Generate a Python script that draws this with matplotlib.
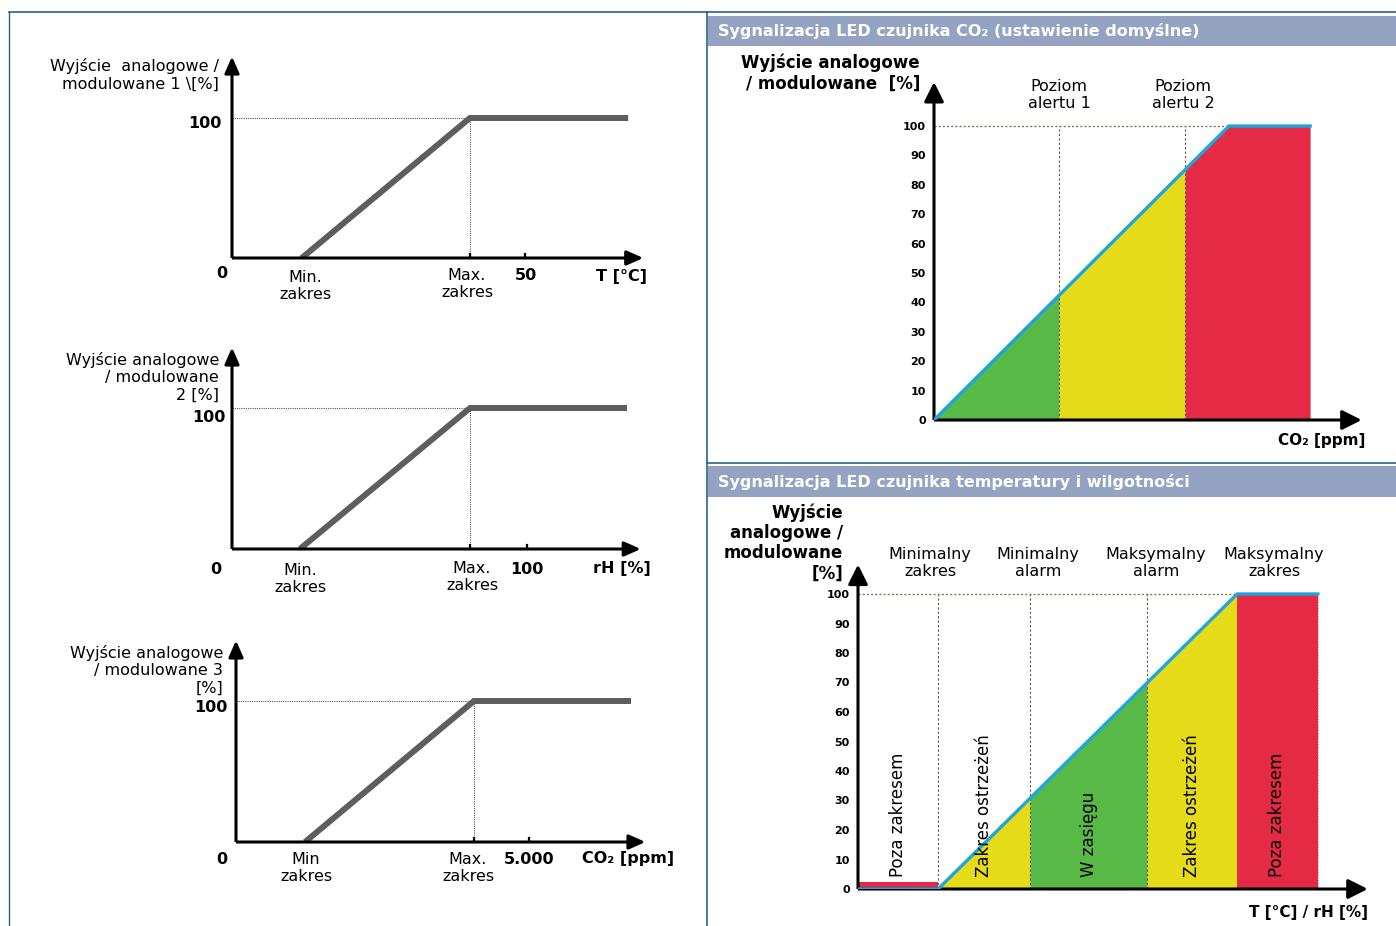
import matplotlib
matplotlib.use('Agg')
import matplotlib.pyplot as plt

plt.rcParams['font.family'] = ['DejaVu Sans']

W, H = 1396, 926

# ---------------- data ----------------
# Left schematic charts: output [%] vs. measured value
t_points_x = [11.9, 40.6, 67.6]          # Min. zakres, Max. zakres, end  (T [°C])
t_points_y = [0, 100, 100]
t_tick = 50
rh_points_x = [23.0, 80.7, 133.9]        # rH [%]
rh_points_y = [0, 100, 100]
rh_tick = 100
co2_points_x = [1177, 4061, 6741]        # CO2 [ppm]
co2_points_y = [0, 100, 100]
co2_tick = 5000

# Right top: CO2 LED signalling (x in relative units)
led_co2_bounds = [0, 42.4, 85.1, 100, 127.5]   # start, alert 1, alert 2, 100% point, end
led_co2_line_x = [0, 100, 127.5]
led_co2_line_y = [0, 100, 100]
led_co2_colors = ['#58b947', '#e6db19', '#e42a44']
y_ticks = list(range(0, 101, 10))

# Right bottom: T / rH LED signalling
led_th_bounds = [0, 26.8, 57.5, 96.7, 126.8, 153.8]
led_th_line_x = [0, 26.8, 126.8, 153.8]
led_th_line_y = [0, 0, 100, 100]
led_th_low_bar = 2.4
led_th_colors = ['#e42a44', '#e6db19', '#58b947', '#e6db19', '#e42a44']
led_th_zone_labels = ['Poza zakresem', 'Zakres ostrzeżeń', 'W zasięgu', 'Zakres ostrzeżeń', 'Poza zakresem']
led_th_top_labels = ['Minimalny\nzakres', 'Minimalny\nalarm', 'Maksymalny\nalarm', 'Maksymalny\nzakres']

GRAY = '#5e5e5e'
BLUE = '#1ea6dc'
DOT = '#7d7658'
FRAME = '#2d5f8c'
HEAD = '#95a3c3'

fig = plt.figure(figsize=(W / 100, H / 100), dpi=100)

bg = fig.add_axes([0, 0, 1, 1])
bg.set_xlim(0, W)
bg.set_ylim(H, 0)
bg.axis('off')

# frames
bg.plot([9, W], [12, 12], color=FRAME, lw=1.2)
bg.plot([9, 9], [12, H], color=FRAME, lw=1.0)
bg.plot([707, 707], [12, H], color=FRAME, lw=1.2)
bg.plot([707, W], [463, 463], color=FRAME, lw=1.2)
bg.add_patch(plt.Rectangle((708, 16), W - 708, 30, color=HEAD, lw=0))
bg.add_patch(plt.Rectangle((708, 466), W - 708, 31, color=HEAD, lw=0))
bg.text(718, 31, 'Sygnalizacja LED czujnika CO₂ (ustawienie domyślne)', color='white',
        fontsize=11.5, fontweight='bold', va='center', ha='left')
bg.text(718, 482, 'Sygnalizacja LED czujnika temperatury i wilgotności', color='white',
        fontsize=11.5, fontweight='bold', va='center', ha='left')


def chart_axes(ox, oy, sx, sy, xmax, ymax):
    ax = fig.add_axes([ox / W, (H - oy) / H, xmax * sx / W, ymax * sy / H])
    ax.set_xlim(0, xmax)
    ax.set_ylim(0, ymax)
    for s in ax.spines.values():
        s.set_visible(False)
    ax.set_xticks([])
    ax.set_yticks([])
    ax.patch.set_alpha(0)
    return ax


def axis_arrows(ax, xtip, ytip, lw=2.2, hl=0.5, hw=0.22):
    style = f'-|>,head_length={hl},head_width={hw}'
    ax.annotate('', xy=(xtip, 0), xytext=(0, 0), annotation_clip=False,
                arrowprops=dict(arrowstyle=style, lw=lw, color='black', shrinkA=0, shrinkB=0,
                                mutation_scale=20, capstyle='butt'))
    ax.annotate('', xy=(0, ytip), xytext=(0, 0), annotation_clip=False,
                arrowprops=dict(arrowstyle=style, lw=lw, color='black', shrinkA=0, shrinkB=0,
                                mutation_scale=20, capstyle='butt'))


def left_chart(ox, oy, sx, sy, px, py, tick, xtip, ytip):
    ax = chart_axes(ox, oy, sx, sy, xtip * 1.02, ytip * 1.02)
    ax.plot([0, px[1]], [100, 100], color='#555555', lw=0.8, ls=(0, (1, 1)), zorder=1)
    ax.plot([px[1], px[1]], [0, 100], color='#555555', lw=0.8, ls=(0, (1, 1)), zorder=1)
    ax.plot(px, py, color=GRAY, lw=4.3, solid_capstyle='butt', solid_joinstyle='miter', zorder=3)
    axis_arrows(ax, xtip, ytip)
    for xv in (px[1], tick):
        ax.plot([xv, xv], [-4, 3], color='black', lw=1.6, zorder=4)
    return ax


FS = 11.5
FSB = 11.5

# ---------- left chart 1 (T) ----------
left_chart(232, 258, 5.86, 1.4, t_points_x, t_points_y, t_tick, 70.2, 144)
bg.text(219, 75, 'Wyjście  analogowe /\nmodulowane 1 \\[%]', ha='right', va='center',
        fontsize=FS, linespacing=1.2)
bg.text(222, 124, '100', ha='right', va='center', fontsize=FSB, fontweight='bold')
bg.text(222, 274, '0', ha='center', va='center', fontsize=FSB, fontweight='bold')
bg.text(305, 286, 'Min.\nzakres', ha='center', va='center', fontsize=FS, linespacing=1.2)
bg.text(467, 284, 'Max.\nzakres', ha='center', va='center', fontsize=FS, linespacing=1.2)
bg.text(526, 276, str(t_tick), ha='center', va='center', fontsize=FSB, fontweight='bold')
bg.text(622, 276, 'T [°C]', ha='center', va='center', fontsize=FSB, fontweight='bold')

# ---------- left chart 2 (rH) ----------
left_chart(232, 549, 2.95, 1.41, rh_points_x, rh_points_y, rh_tick, 138.6, 143)
bg.text(219, 377, 'Wyjście analogowe\n/ modulowane\n2 [%]', ha='right', va='center',
        fontsize=FS, linespacing=1.2)
bg.text(226, 417, '100', ha='right', va='center', fontsize=FSB, fontweight='bold')
bg.text(216, 569, '0', ha='center', va='center', fontsize=FSB, fontweight='bold')
bg.text(300, 579, 'Min.\nzakres', ha='center', va='center', fontsize=FS, linespacing=1.2)
bg.text(472, 577, 'Max.\nzakres', ha='center', va='center', fontsize=FS, linespacing=1.2)
bg.text(527, 569, str(rh_tick), ha='center', va='center', fontsize=FSB, fontweight='bold')
bg.text(622, 569, 'rH [%]', ha='center', va='center', fontsize=FSB, fontweight='bold')

# ---------- left chart 3 (CO2) ----------
left_chart(236, 842, 0.0586, 1.41, co2_points_x, co2_points_y, co2_tick, 6990, 143)
bg.text(223, 670, 'Wyjście analogowe\n/ modulowane 3\n[%]', ha='right', va='center',
        fontsize=FS, linespacing=1.2)
bg.text(228, 708, '100', ha='right', va='center', fontsize=FSB, fontweight='bold')
bg.text(222, 860, '0', ha='center', va='center', fontsize=FSB, fontweight='bold')
bg.text(306, 868, 'Min\nzakres', ha='center', va='center', fontsize=FS, linespacing=1.2)
bg.text(468, 868, 'Max.\nzakres', ha='center', va='center', fontsize=FS, linespacing=1.2)
bg.text(529, 860, '5.000', ha='center', va='center', fontsize=FSB, fontweight='bold')
bg.text(628, 859, 'CO₂ [ppm]', ha='center', va='center', fontsize=FSB, fontweight='bold')


def right_setup(ax):
    ax.set_yticks(y_ticks)
    ax.set_yticklabels([str(v) for v in y_ticks], fontsize=8, fontweight='bold')
    ax.tick_params(axis='y', length=0, pad=6)


# ---------- right top: CO2 LED ----------
sx1 = (1229 - 934) / 100
ax1 = chart_axes(934, 420, sx1, 2.94, 146, 115)
right_setup(ax1)
b = led_co2_bounds
lx, ly = led_co2_line_x, led_co2_line_y
ax1.fill_between([b[0], b[1]], [0, b[1]], color=led_co2_colors[0], lw=0)
ax1.fill_between([b[1], b[2]], [b[1], b[2]], color=led_co2_colors[1], lw=0)
ax1.fill_between([b[2], b[3], b[4]], [b[2], 100, 100], color=led_co2_colors[2], lw=0)
for xv in (b[1], b[2]):
    ax1.plot([xv, xv], [0, 100], color='#555555', lw=0.8, ls=(0, (2, 2)), zorder=2)
ax1.plot([b[4], b[4]], [0, 100], color='#999988', lw=0.8, ls=(0, (1, 1.5)), zorder=2)
ax1.plot([0, b[3]], [100, 100], color=DOT, lw=1.0, ls=(0, (1.5, 1.5)), zorder=2)
ax1.plot(lx, ly, color=BLUE, lw=2.4, zorder=5, solid_joinstyle='miter')
axis_arrows(ax1, 145, 115, lw=2.2, hl=0.6, hw=0.3)
bg.text(920, 73, 'Wyjście analogowe\n/ modulowane  [%]', ha='right', va='center',
        fontsize=12, fontweight='bold', linespacing=1.2)
bg.text(1059, 95, 'Poziom\nalertu 1', ha='center', va='center', fontsize=11.5, linespacing=1.15)
bg.text(1183, 95, 'Poziom\nalertu 2', ha='center', va='center', fontsize=11.5, linespacing=1.15)
bg.text(1365, 440, 'CO₂ [ppm]', ha='right', va='center', fontsize=11, fontweight='bold')

# ---------- right bottom: T / rH LED ----------
sx2 = (1237 - 938) / (led_th_bounds[4] - led_th_bounds[1])
ax2 = chart_axes(858, 889, sx2, 2.95, 171, 110)
right_setup(ax2)
tb = led_th_bounds
slope = 100 / (tb[4] - tb[1])


def line_y(x):
    return min(max((x - tb[1]) * slope, 0), 100)


ax2.fill_between([tb[0], tb[1]], [led_th_low_bar, led_th_low_bar], color=led_th_colors[0], lw=0)
for i in (1, 2, 3):
    ax2.fill_between([tb[i], tb[i + 1]], [line_y(tb[i]), line_y(tb[i + 1])],
                     color=led_th_colors[i], lw=0)
ax2.fill_between([tb[4], tb[5]], [100, 100], color=led_th_colors[4], lw=0)
for xv in tb[1:4]:
    ax2.plot([xv, xv], [0, 100], color='#555555', lw=0.8, ls=(0, (2, 2)), zorder=2)
ax2.plot([tb[5], tb[5]], [0, 100], color='#999988', lw=0.8, ls=(0, (1, 1.5)), zorder=2)
ax2.plot([0, tb[4]], [100, 100], color=DOT, lw=1.0, ls=(0, (1.5, 1.5)), zorder=2)
ax2.plot(led_th_line_x, led_th_line_y, color=BLUE, lw=2.4, zorder=6, solid_joinstyle='miter')
axis_arrows(ax2, 170.5, 110, lw=2.2, hl=0.6, hw=0.3)
for i, lab in enumerate(led_th_zone_labels):
    xc = (tb[i] + tb[i + 1]) / 2
    ax2.text(xc, 4, lab, rotation=90, ha='center', va='bottom', fontsize=12, zorder=7)
top_label_px = [930, 1038, 1156, 1274]
for xp, lab in zip(top_label_px, led_th_top_labels):
    bg.text(xp, 563, lab, ha='center', va='center', fontsize=11.5, linespacing=1.15)
bg.text(843, 543, 'Wyjście\nanalogowe /\nmodulowane\n[%]', ha='right', va='center',
        fontsize=12, fontweight='bold', linespacing=1.15)
bg.text(1368, 912, 'T [°C] / rH [%]', ha='right', va='center', fontsize=11, fontweight='bold')

fig.savefig('out.png', dpi=100)
